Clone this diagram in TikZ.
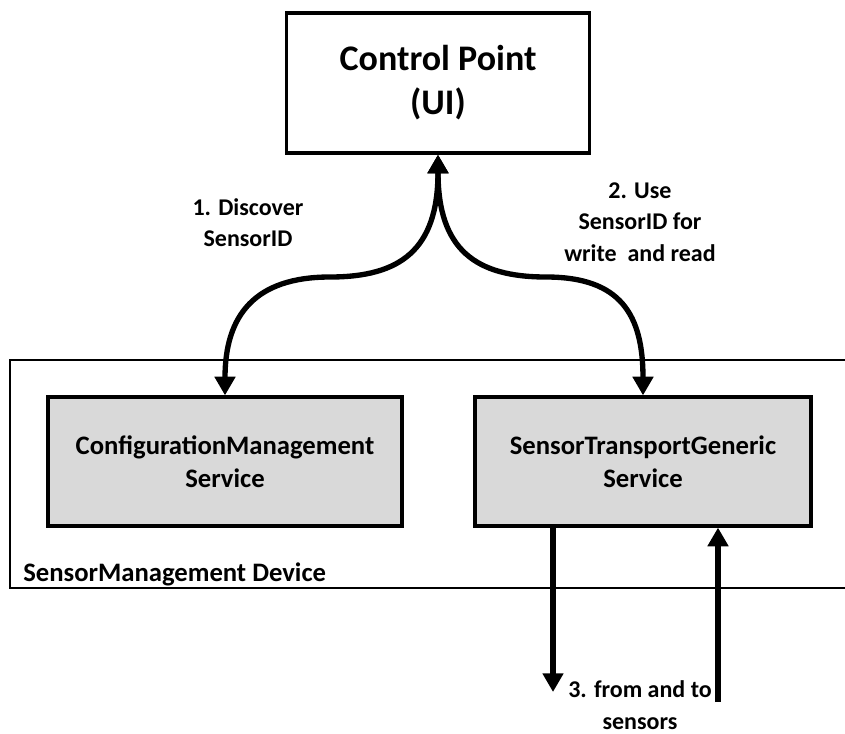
\documentclass[tikz,border=0pt]{standalone}
\usepackage{fontspec}
\setmainfont{Carlito}
\usepackage{tikz}
\usetikzlibrary{arrows.meta,positioning,calc}
\definecolor{svcgray}{RGB}{217,217,217}
\tikzset{
  cpbox/.style={draw=black,line width=2.4pt,fill=white,minimum width=227pt,minimum height=105pt,align=center,inner sep=0pt,
    font=\fontsize{27}{33}\selectfont\bfseries},
  devbox/.style={draw=black,line width=2.2pt,minimum width=637.5pt,minimum height=171pt,inner sep=0pt},
  svc/.style={draw=black,line width=2.4pt,fill=svcgray,minimum height=96.75pt,align=center,inner sep=0pt,
    font=\fontsize{20}{24.5}\selectfont\bfseries},
  note/.style={align=center,inner sep=0pt,font=\fontsize{18}{23.5}\selectfont\bfseries},
  dual/.style={line width=4pt,{Triangle[length=14pt,width=15pt]}-{Triangle[length=14pt,width=15pt]}},
  flow/.style={line width=4pt,-{Triangle[length=14pt,width=15pt]}}
}

\begin{document}
\begin{tikzpicture}[x=0.75pt,y=-0.75pt]
  \useasboundingbox (0,0) rectangle (845,734);

  % device frame runs off the right edge
  \node[devbox] (dev) at (435,474) {};
  \node[anchor=west,inner sep=0pt,font=\fontsize{20}{24}\selectfont\bfseries] (devlbl) at (23,574) {SensorManagement Device};

  \node[cpbox] (cp) at (438,83) {Control Point\\(UI)};
  \node[svc,minimum width=265.5pt] (cfg) at (225,461.5) {ConfigurationManagement\\Service};
  \node[svc,minimum width=252pt] (stg) at (643,461.5) {SensorTransportGeneric\\Service};

  % discovery / use branches
  \draw[dual] (cp.south) .. controls (438,250) and (400,277) .. (330,277)
    .. controls (255,277) and (225,315) .. (cfg.north);
  \draw[dual] (cp.south) .. controls (438,250) and (476,277) .. (546,277)
    .. controls (621,277) and (643,315) .. (stg.north);

  \node[note] (discover) at (248,223) {1. Discover\\SensorID};
  \node[note] (use) at (640,222) {2. Use\\SensorID for\\write~ and read};

  % sensor traffic
  \coordinate (out) at (553,692);
  \coordinate (in) at (718,702);
  \draw[flow] (stg.south -| out) -- (out);
  \draw[flow] (in) -- (stg.south -| in);
  \node[note] (sensors) at (640,705) {3. from and to\\sensors};
\end{tikzpicture}
\end{document}
